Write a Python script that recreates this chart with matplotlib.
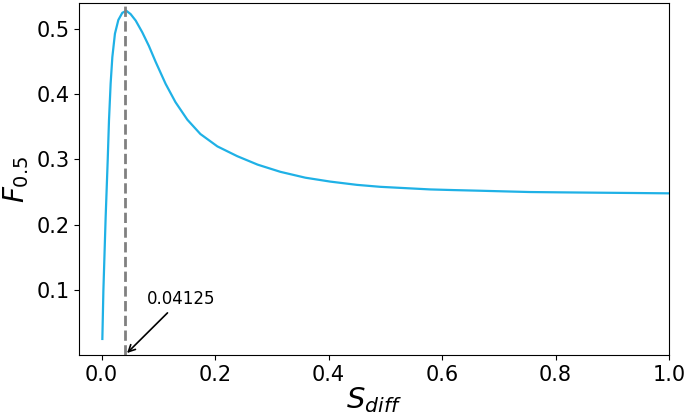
import matplotlib
matplotlib.use("Agg")
import matplotlib.pyplot as plt

# F0.5 score against S_diff threshold
s_diff = [0.0012, 0.003, 0.007, 0.0106, 0.0129, 0.0158, 0.0188, 0.0234, 0.0294,
          0.0364, 0.0435, 0.051, 0.060, 0.0716, 0.0833, 0.095, 0.1127, 0.130,
          0.151, 0.174, 0.204, 0.239, 0.275, 0.315, 0.359, 0.403, 0.45, 0.491,
          0.535, 0.579, 0.62, 0.667, 0.71, 0.755, 0.81, 0.873, 0.94, 1.0]
f05 = [0.0246, 0.098, 0.211, 0.298, 0.36, 0.4165, 0.457, 0.493, 0.514,
       0.525, 0.528, 0.523, 0.513, 0.495, 0.474, 0.450, 0.416, 0.388,
       0.361, 0.339, 0.320, 0.305, 0.292, 0.281, 0.272, 0.266, 0.261, 0.258,
       0.256, 0.254, 0.253, 0.252, 0.251, 0.250, 0.2495, 0.249, 0.2485, 0.248]
best_s = 0.04125
best_label = "0.04125"

fig = plt.figure(figsize=(6.85, 4.17), dpi=100)
ax = fig.add_axes([0.1153, 0.1487, 0.8613, 0.8441])

ax.plot(s_diff, f05, color="#1fb1e6", lw=1.6)
ax.axvline(best_s, color="gray", ls="--", lw=2)
ax.annotate(best_label, xy=(best_s, 0.0), xytext=(0.08, 0.078), fontsize=12,
            arrowprops=dict(arrowstyle="->", color="black", lw=1.2))

ax.set_xlim(-0.04, 1.0)
ax.set_ylim(0.0, 0.54)
ax.set_xticks([0.0, 0.2, 0.4, 0.6, 0.8, 1.0])
ax.set_yticks([0.1, 0.2, 0.3, 0.4, 0.5])
ax.tick_params(labelsize=15)
ax.set_xlabel(r"$S_{diff}$", fontsize=21, labelpad=0)
ax.set_ylabel(r"$F_{0.5}$", fontsize=20, labelpad=4)

fig.savefig("out.png", dpi=100)
